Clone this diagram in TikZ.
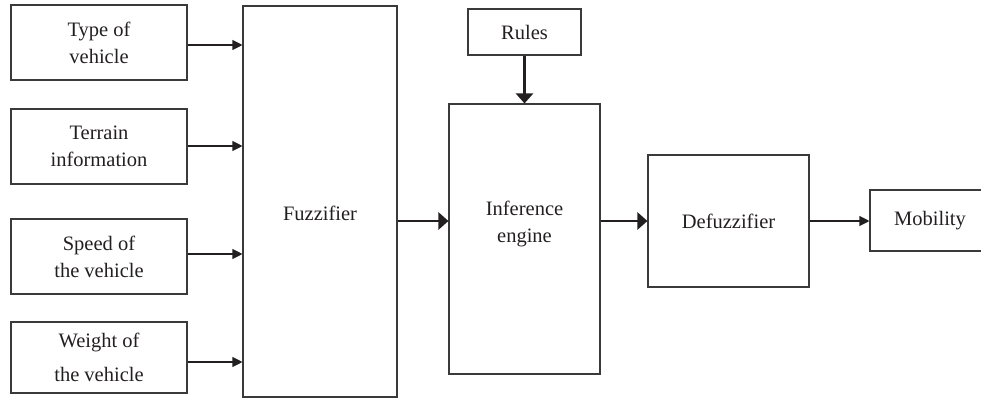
\documentclass[tikz,border=0pt]{standalone}
\usepackage{fontspec}
\setmainfont{Liberation Serif}
\usetikzlibrary{arrows.meta}
\definecolor{edge}{HTML}{3A3A3A}
\definecolor{ink}{HTML}{231F20}
\tikzset{
  blk/.style={draw=edge, line width=1.1pt, inner sep=0pt, align=center,
              text=ink, font=\fontsize{20.5}{27}\selectfont},
  thinarrow/.style={draw=ink, line width=1.1pt, -{Triangle[length=10pt,width=10pt]}},
  thickarrow/.style={draw=ink, line width=2.8pt, -{Triangle[length=10pt,width=17pt]}},
  lbl/.style={text=ink, align=center, font=\fontsize{20.5}{27}\selectfont}
}
\begin{document}
\begin{tikzpicture}[x=1pt, y=-1pt]
\useasboundingbox (0,0) rectangle (981,404);
\clip (0,0) rectangle (981,404);
% input boxes
\node[blk, minimum width=176pt, minimum height=75pt] (in1) at (99,42.5) {Type of\\vehicle};
\node[blk, minimum width=176pt, minimum height=75pt] (in2) at (99,146.5) {Terrain\\information};
\node[blk, minimum width=176pt, minimum height=75pt] (in3) at (99,256.5) {Speed of\\the vehicle};
\node[blk, minimum width=176pt, minimum height=71pt] (in4) at (99,357.5) {Weight of\\[7pt]the vehicle};
% processing chain
\node[blk, minimum width=154pt, minimum height=391pt] (fuzz) at (320,201.5) {};
\node[lbl] (fuzzt) at (320,213) {Fuzzifier};
\node[blk, minimum width=113pt, minimum height=46pt] (rules) at (524.5,32) {Rules};
\node[blk, minimum width=151pt, minimum height=270pt] (inf) at (524.5,239) {};
\node[lbl] (inft) at (524.5,224) {Inference\\engine};
\node[blk, minimum width=161pt, minimum height=132pt] (defuzz) at (728.5,221) {Defuzzifier};
\node[blk, minimum width=120pt, minimum height=61pt] (mob) at (930,220.5) {Mobility};
% inputs into the fuzzifier
\draw[thinarrow] ([yshift=-2.5pt]in1.east) -- ([yshift=-2.5pt]in1.east -| fuzz.west);
\draw[thinarrow] ([yshift=0.5pt]in2.east) -- ([yshift=0.5pt]in2.east -| fuzz.west);
\draw[thinarrow] ([yshift=2.5pt]in3.east) -- ([yshift=2.5pt]in3.east -| fuzz.west);
\draw[thinarrow] ([yshift=-4.5pt]in4.east) -- ([yshift=-4.5pt]in4.east -| fuzz.west);
% main flow
\draw[thickarrow] (rules.south) -- (inf.north);
\draw[thickarrow] (fuzz.east |- defuzz.west) -- (inf.west |- defuzz.west);
\draw[thickarrow] (inf.east |- defuzz.west) -- (defuzz.west);
\draw[thinarrow] (defuzz.east) -- (mob.west |- defuzz.east);
\end{tikzpicture}
\end{document}
